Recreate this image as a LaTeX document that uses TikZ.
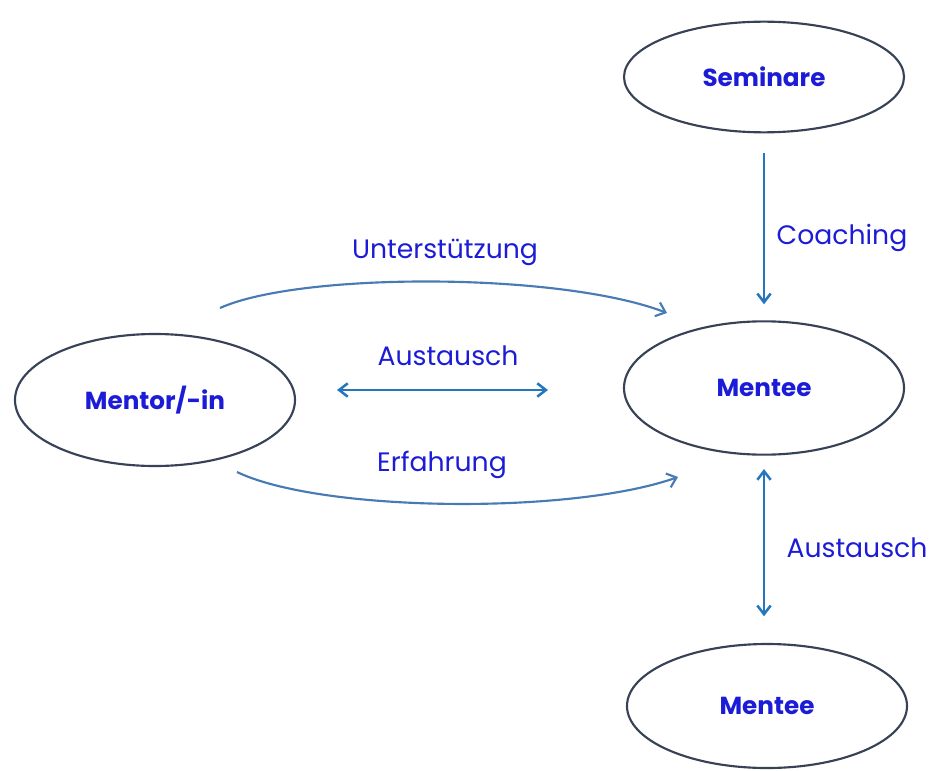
\documentclass[tikz,border=0pt]{standalone}
\usepackage{fontspec}
\setmainfont{Poppins}
\usetikzlibrary{shapes.geometric,arrows.meta}
\definecolor{txtblue}{RGB}{28,28,215}
\definecolor{rimgray}{RGB}{55,66,86}
\definecolor{arrowblue}{RGB}{38,118,190}
\definecolor{curveblue}{RGB}{72,122,180}
\tikzset{
  bubble/.style={ellipse, draw=rimgray, line width=1.6pt, inner sep=0pt,
    minimum width=210pt, minimum height=96pt, text=txtblue,
    font=\fontsize{18.5}{20}\selectfont\bfseries},
  label/.style={text=txtblue, font=\fontsize{20}{22}\selectfont},
  link/.style={draw=arrowblue, line width=1.9pt, -{Straight Barb[length=6.5pt,width=10pt]}},
  bilink/.style={link, {Straight Barb[length=6.5pt,width=10pt]}-{Straight Barb[length=6.5pt,width=10pt]}},
  curvelink/.style={draw=curveblue, line width=1.6pt, -{Straight Barb[length=6.5pt,width=11pt]}},
}
\begin{document}
\begin{tikzpicture}[x=0.75pt,y=-0.75pt]
  \useasboundingbox (0,0) rectangle (930,770);
  % nodes
  \node[bubble, minimum height=83pt] (seminare) at (764,77) {Seminare};
  \node[bubble, minimum height=99pt] (mentor) at (155,400) {Mentor/-in};
  \node[bubble, minimum height=100pt] (mentee) at (764,388) {Mentee};
  \node[bubble, minimum height=93pt] (peer) at (767,706) {Mentee};
  % free ends of the connectors between mentor and mentee
  \coordinate (ua) at (220,308);
  \coordinate (ub) at (667,313);
  \coordinate (ea) at (237,472);
  \coordinate (eb) at (678,477);
  \coordinate (ha) at (337,390);
  \coordinate (hb) at (548,390);
  % connectors
  \draw[link, shorten <=15pt, shorten >=12pt] (seminare) -- (mentee);
  \draw[bilink, shorten <=10pt, shorten >=20pt] (mentee.south) -- (mentee.south |- peer.north);
  \draw[bilink] (ha) -- (hb);
  \draw[curvelink] (ua) .. controls (300,272) and (560,272) .. (ub);
  \draw[curvelink] (ea) .. controls (320,512) and (570,515) .. (eb);
  % labels
  \node[label] (lu) at (445,252) {Unterstützung};
  \node[label] (la) at (448,356) {Austausch};
  \node[label] (le) at (442,465) {Erfahrung};
  \node[label] (lc) at (842,238) {Coaching};
  \node[label] (lp) at (857,548) {Austausch};
\end{tikzpicture}
\end{document}
